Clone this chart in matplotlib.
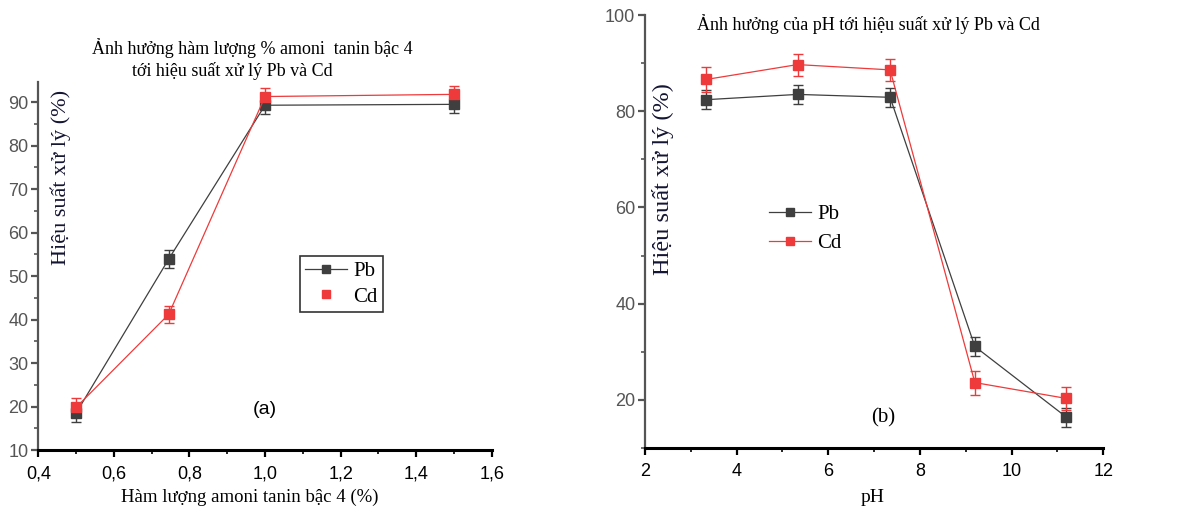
import matplotlib
matplotlib.use('Agg')
import matplotlib.pyplot as plt
from matplotlib.ticker import MultipleLocator
from matplotlib.lines import Line2D

# (a) amoni tanin content
x_a = [0.5, 0.745, 1.0, 1.5]
pb_a = [18.5, 53.9, 89.3, 89.5]
cd_a = [19.8, 41.2, 91.3, 91.8]
pb_a_err = [2.0, 2.0, 2.0, 2.0]
cd_a_err = [2.2, 2.0, 2.0, 2.0]

# (b) pH
x_b = [3.33, 5.33, 7.35, 9.2, 11.2]
pb_b = [82.4, 83.5, 82.9, 31.1, 16.4]
cd_b = [86.6, 89.7, 88.6, 23.6, 20.3]
pb_b_err = [2.0, 2.0, 2.0, 2.0, 2.0]
cd_b_err = [2.5, 2.3, 2.3, 2.5, 2.4]

PB = '#3f3f3f'
CD = '#ee3a3a'
serif = ['Liberation Serif', 'DejaVu Serif']
sans = ['Liberation Sans', 'DejaVu Sans']

fig = plt.figure(figsize=(11.9, 5.13), dpi=100)
ax1 = fig.add_axes([0.0322, 0.1228, 0.381, 0.717])
ax2 = fig.add_axes([0.542, 0.1267, 0.385, 0.844])


def style(ax):
    for s in ['top', 'right']:
        ax.spines[s].set_visible(False)
    ax.spines['bottom'].set_linewidth(2.2)
    ax.spines['bottom'].set_color('black')
    ax.spines['left'].set_linewidth(1.6)
    ax.spines['left'].set_color('#555555')
    ax.tick_params(axis='x', which='major', length=5, width=1.6, colors='black',
                   labelsize=13, pad=6)
    ax.tick_params(axis='x', which='minor', length=3, width=1.2, colors='black')
    ax.tick_params(axis='y', which='major', length=5, width=1.6, colors='#555555',
                   labelsize=13, pad=2)
    ax.tick_params(axis='y', which='minor', length=3, width=1.2, colors='#555555')
    for lab in ax.get_xticklabels() + ax.get_yticklabels():
        lab.set_family(sans)


def serif_legend(leg):
    for t in leg.get_texts():
        t.set_family(serif)
        t.set_fontsize(15)


# panel (a)
ax1.errorbar(x_a, pb_a, yerr=pb_a_err, color=PB, lw=0.9, marker='s', ms=6.5,
             capsize=3.5, elinewidth=1, capthick=1, label='Pb', zorder=3)
ax1.errorbar(x_a, cd_a, yerr=cd_a_err, color=CD, lw=0.9, marker='s', ms=6.5,
             capsize=3.5, elinewidth=1, capthick=1, label='Cd', zorder=3)
ax1.set_xlim(0.4, 1.6)
ax1.set_ylim(10, 94.6)
ax1.xaxis.set_minor_locator(MultipleLocator(0.1))
ax1.yaxis.set_major_locator(MultipleLocator(10))
ax1.yaxis.set_minor_locator(MultipleLocator(5))
ax1.set_xticks([0.4, 0.6, 0.8, 1.0, 1.2, 1.4, 1.6])
ax1.set_xticklabels(['0,4', '0,6', '0,8', '1,0', '1,2', '1,4', '1,6'])
style(ax1)

h_pb = Line2D([], [], color=PB, lw=0.9, marker='s', ms=6)
h_cd = Line2D([], [], color=CD, lw=0, marker='s', ms=6)
leg1 = ax1.legend([h_pb, h_cd], ['Pb', 'Cd'], loc='upper left',
                  bbox_to_anchor=(0.577, 0.527), borderaxespad=0,
                  frameon=True, fancybox=False, edgecolor='black',
                  fontsize=15, handlelength=2.0, handletextpad=0.3,
                  borderpad=0.25, labelspacing=0.3)
leg1.get_frame().set_linewidth(1.2)
serif_legend(leg1)

ax1.text(0.5, 0.11, '(a)', transform=ax1.transAxes, ha='center', va='center',
         fontsize=14, family=sans)
ax1.text(0.05, 0.74, 'Hiệu suất xử lý (%)', transform=ax1.transAxes,
         rotation=90, ha='center', va='center', fontsize=16, family=serif,
         color='#141433')
fig.text(0.0775, 0.906, 'Ảnh hưởng hàm lượng % amoni  tanin bậc 4', ha='left',
         va='center', fontsize=13, family=serif)
fig.text(0.111, 0.862, 'tới hiệu suất xử lý Pb và Cd', ha='left', va='center',
         fontsize=13, family=serif)
fig.text(0.21, 0.03, 'Hàm lượng amoni tanin bậc 4 (%)', ha='center',
         va='center', fontsize=13.5, family=serif)

# panel (b)
ax2.errorbar(x_b, pb_b, yerr=pb_b_err, color=PB, lw=0.9, marker='s', ms=6.5,
             capsize=3.5, elinewidth=1, capthick=1, label='Pb', zorder=3)
ax2.errorbar(x_b, cd_b, yerr=cd_b_err, color=CD, lw=0.9, marker='s', ms=6.5,
             capsize=3.5, elinewidth=1, capthick=1, label='Cd', zorder=3)
ax2.set_xlim(2, 12)
ax2.set_ylim(10, 100)
ax2.xaxis.set_major_locator(MultipleLocator(2))
ax2.xaxis.set_minor_locator(MultipleLocator(1))
ax2.set_yticks([20, 40, 60, 80, 100])
ax2.yaxis.set_minor_locator(MultipleLocator(10))
style(ax2)

h_pb2 = Line2D([], [], color=PB, lw=0.9, marker='s', ms=6)
h_cd2 = Line2D([], [], color=CD, lw=0.9, marker='s', ms=6)
leg2 = ax2.legend([h_pb2, h_cd2], ['Pb', 'Cd'], loc='upper left',
                  bbox_to_anchor=(0.271, 0.562), borderaxespad=0,
                  frameon=False, fontsize=15, handlelength=2.0,
                  handletextpad=0.3, labelspacing=0.45, borderpad=0)
serif_legend(leg2)

ax2.text(0.52, 0.07, '(b)', transform=ax2.transAxes, ha='center', va='center',
         fontsize=15, family=serif)
ax2.text(0.04, 0.62, 'Hiệu suất xử lý (%)', transform=ax2.transAxes,
         rotation=90, ha='center', va='center', fontsize=17.5, family=serif,
         color='#141433')
fig.text(0.7295, 0.953, 'Ảnh hưởng của pH tới hiệu suất xử lý Pb và Cd',
         ha='center', va='center', fontsize=13, family=serif)
fig.text(0.733, 0.03, 'pH', ha='center', va='center', fontsize=14,
         family=serif)

fig.savefig('out.png', dpi=100)
